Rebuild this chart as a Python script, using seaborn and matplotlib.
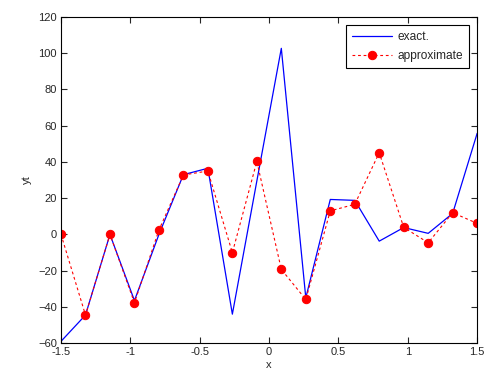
import numpy as np
import pandas as pd
import matplotlib
matplotlib.use('Agg')
import matplotlib.pyplot as plt
import seaborn as sns

# sample points (18 nodes on [-1.5, 1.5])
x_nodes = [-1.5, -1.3235, -1.1471, -0.9706, -0.7941, -0.6176, -0.4412, -0.2647, -0.0882,
           0.0882, 0.2647, 0.4412, 0.6176, 0.7941, 0.9706, 1.1471, 1.3235, 1.5]
y_exact = [-59, -44.5, 0, -36.5, 0, 33, 36.5, -44, 29.5,
           102.7, -35, 19.3, 18.8, -3.7, 3.8, 0.6, 11.6, 55.8]
y_approx = [0, -44.5, 0, -37.7, 2.4, 32.8, 35, -10.1, 40.3,
            -19.3, -35.9, 13, 16.6, 45.1, 3.9, -4.6, 12, 6.1]

df = pd.DataFrame({'x': x_nodes, 'exact': y_exact, 'approx': y_approx})

sns.set_style("white")
plt.rcParams['font.family'] = ['Liberation Sans', 'DejaVu Sans']

fig = plt.figure(figsize=(4.96, 3.86), dpi=100)
ax = fig.add_axes([0.123, 0.111, 0.839, 0.845])

sns.lineplot(data=df, x='x', y='exact', color='blue', lw=0.9, label='exact.', ax=ax)
sns.lineplot(data=df, x='x', y='approx', color='red', lw=0.8, linestyle=(0, (2.5, 2.5)),
             marker='o', markersize=6, markeredgecolor='red', label='approximate', ax=ax)

ax.set_xlim(-1.5, 1.5)
ax.set_ylim(-60, 120)
ax.set_xticks(np.arange(-1.5, 1.51, 0.5))
ax.set_xticklabels(['-1.5', '-1', '-0.5', '0', '0.5', '1', '1.5'])
ax.set_yticks(np.arange(-60, 121, 20))
ax.tick_params(direction='in', length=4, width=0.8, labelsize=8, top=True, right=True,
               bottom=True, left=True, pad=3)
for s in ax.spines.values():
    s.set_color('black')
    s.set_linewidth(0.8)
ax.set_xlabel('x', fontsize=8, labelpad=2)
ax.set_ylabel('yt', fontsize=8, labelpad=4)

leg = ax.legend(loc='upper right', fontsize=8.6, fancybox=False, framealpha=1,
                edgecolor='black', borderaxespad=0.65, handlelength=3.3,
                handletextpad=0.5, labelspacing=0.6, borderpad=0.5)
leg.get_frame().set_linewidth(0.8)

fig.savefig('out.png', dpi=100)
